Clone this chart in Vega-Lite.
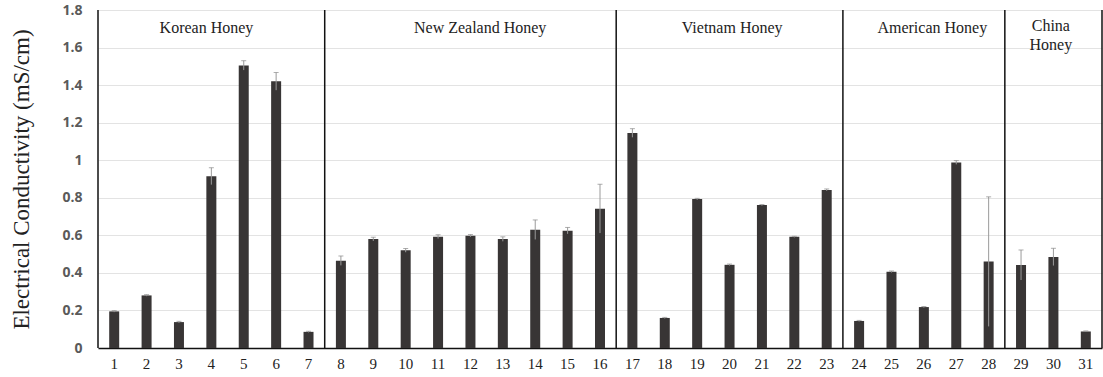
{
  "$schema": "https://vega.github.io/schema/vega-lite/v6.json",
  "width": 1004,
  "height": 338,
  "autosize": {"type": "none"},
  "padding": {"left": 98, "top": 10, "right": 1, "bottom": 29},
  "background": "white",
  "config": {
    "view": {"stroke": null},
    "axisY": {
      "titleFont": "Liberation Serif", "titleFontSize": 23, "titleFontWeight": "normal",
      "titleColor": "#222222", "titlePadding": 28,
      "labelFont": "Open Sans", "labelFontSize": 14, "labelFontWeight": "bold",
      "labelColor": "#5a5a5a", "labelPadding": 16, "ticks": false, "domain": false,
      "grid": true, "gridColor": "#e3e3e3", "gridWidth": 1, "labelOverlap": false
    }
  },
  "datasets": {
    "bars": [
      {"n": 1, "v": 0.195, "e": 0.004},
      {"n": 2, "v": 0.28, "e": 0.004},
      {"n": 3, "v": 0.138, "e": 0.004},
      {"n": 4, "v": 0.915, "e": 0.045},
      {"n": 5, "v": 1.505, "e": 0.025},
      {"n": 6, "v": 1.42, "e": 0.047},
      {"n": 7, "v": 0.086, "e": 0.003},
      {"n": 8, "v": 0.465, "e": 0.025},
      {"n": 9, "v": 0.58, "e": 0.01},
      {"n": 10, "v": 0.52, "e": 0.01},
      {"n": 11, "v": 0.593, "e": 0.01},
      {"n": 12, "v": 0.598, "e": 0.006},
      {"n": 13, "v": 0.58, "e": 0.012},
      {"n": 14, "v": 0.63, "e": 0.052},
      {"n": 15, "v": 0.625, "e": 0.017},
      {"n": 16, "v": 0.742, "e": 0.13},
      {"n": 17, "v": 1.145, "e": 0.023},
      {"n": 18, "v": 0.16, "e": 0.003},
      {"n": 19, "v": 0.793, "e": 0.004},
      {"n": 20, "v": 0.443, "e": 0.004},
      {"n": 21, "v": 0.761, "e": 0.003},
      {"n": 22, "v": 0.592, "e": 0.003},
      {"n": 23, "v": 0.842, "e": 0.005},
      {"n": 24, "v": 0.144, "e": 0.003},
      {"n": 25, "v": 0.406, "e": 0.004},
      {"n": 26, "v": 0.218, "e": 0.003},
      {"n": 27, "v": 0.988, "e": 0.01},
      {"n": 28, "v": 0.46, "e": 0.345},
      {"n": 29, "v": 0.442, "e": 0.08},
      {"n": 30, "v": 0.485, "e": 0.046},
      {"n": 31, "v": 0.088, "e": 0.003}
    ],
    "seps": [{"p": 0}, {"p": 7}, {"p": 16}, {"p": 23}, {"p": 28}, {"p": 31}],
    "groups": [
      {"p": 3.35, "y": 1.705, "label": "Korean Honey"},
      {"p": 11.8, "y": 1.705, "label": "New Zealand Honey"},
      {"p": 19.58, "y": 1.705, "label": "Vietnam Honey"},
      {"p": 25.76, "y": 1.705, "label": "American Honey"},
      {"p": 29.42, "y": 1.715, "label": "China\nHoney"}
    ]
  },
  "layer": [
    {
      "data": {"name": "bars"},
      "encoding": {
        "x": {
          "field": "n", "type": "ordinal",
          "scale": {"paddingInner": 0, "paddingOuter": 0},
          "axis": {
            "title": null, "labelAngle": 0, "ticks": false,
            "labelFont": "Liberation Serif", "labelFontSize": 15, "labelColor": "#222222",
            "labelPadding": 8, "domain": true, "domainColor": "#111111", "domainWidth": 1.5
          }
        }
      },
      "layer": [
        {
          "mark": {"type": "bar", "size": 10, "color": "#383535"},
          "encoding": {
            "y": {
              "field": "v", "type": "quantitative",
              "scale": {"domain": [0, 1.8], "nice": false},
              "axis": {"values": [0, 0.2, 0.4, 0.6, 0.8, 1, 1.2, 1.4, 1.6, 1.8], "format": "~g", "title": "Electrical Conductivity (mS/cm)"}
            }
          }
        },
        {
          "transform": [{"calculate": "datum.v - datum.e", "as": "lo"}, {"calculate": "datum.v + datum.e", "as": "hi"}],
          "mark": {"type": "rule", "color": "#9a9a9a", "strokeWidth": 1},
          "encoding": {
            "y": {"field": "lo", "type": "quantitative", "axis": {"values": [0, 0.2, 0.4, 0.6, 0.8, 1, 1.2, 1.4, 1.6, 1.8], "format": "~g", "title": "Electrical Conductivity (mS/cm)"}},
            "y2": {"field": "hi"}
          }
        },
        {
          "transform": [{"calculate": "datum.v + datum.e", "as": "hi"}],
          "mark": {"type": "tick", "color": "#8a8a8a", "size": 5, "thickness": 1, "orient": "horizontal"},
          "encoding": {
            "y": {"field": "hi", "type": "quantitative", "axis": {"values": [0, 0.2, 0.4, 0.6, 0.8, 1, 1.2, 1.4, 1.6, 1.8], "format": "~g", "title": "Electrical Conductivity (mS/cm)"}}
          }
        }
      ]
    },
    {
      "data": {"name": "seps"},
      "mark": {"type": "rule", "color": "#111111", "strokeWidth": 1.5},
      "encoding": {
        "x": {"field": "p", "type": "quantitative", "scale": {"domain": [0, 31], "nice": false, "zero": false}, "axis": null}
      }
    },
    {
      "data": {"name": "groups"},
      "mark": {"type": "text", "font": "Liberation Serif", "fontSize": 16, "color": "#222222", "lineBreak": "\n", "lineHeight": 19, "baseline": "middle"},
      "encoding": {
        "x": {"field": "p", "type": "quantitative", "scale": {"domain": [0, 31], "nice": false, "zero": false}, "axis": null},
        "y": {"field": "y", "type": "quantitative", "axis": {"values": [0, 0.2, 0.4, 0.6, 0.8, 1, 1.2, 1.4, 1.6, 1.8], "format": "~g", "title": "Electrical Conductivity (mS/cm)"}},
        "text": {"field": "label"}
      }
    }
  ],
  "resolve": {"scale": {"x": "independent"}}
}
